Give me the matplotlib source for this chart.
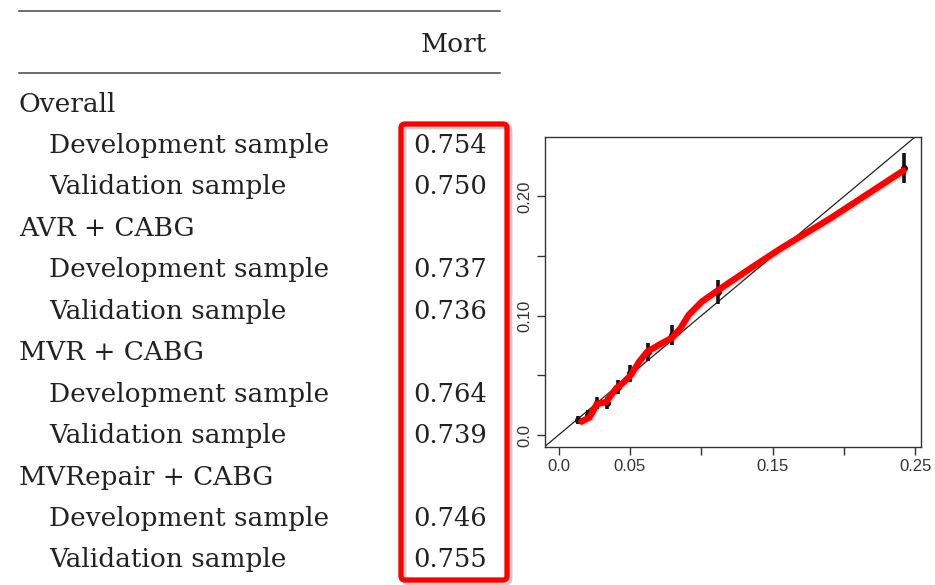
import numpy as np
import matplotlib
matplotlib.use('Agg')
import matplotlib.pyplot as plt
import matplotlib.patches as mpatches
import matplotlib.transforms as mtransforms
import matplotlib.patheffects as pe

# table contents
row_labels = ['Overall', 'Development sample', 'Validation sample',
              'AVR + CABG', 'Development sample', 'Validation sample',
              'MVR + CABG', 'Development sample', 'Validation sample',
              'MVRepair + CABG', 'Development sample', 'Validation sample']
row_indent = [0, 1, 1, 0, 1, 1, 0, 1, 1, 0, 1, 1]
row_values = ['', '0.754', '0.750', '', '0.737', '0.736',
              '', '0.764', '0.739', '', '0.746', '0.755']
col_header = 'Mort'

# calibration: grouped observed vs predicted with error bars
pred = [0.0136, 0.0206, 0.0268, 0.0338, 0.0414, 0.0502, 0.0627, 0.0796, 0.1120, 0.2417]
obs = [0.0126, 0.0168, 0.0266, 0.0266, 0.0405, 0.0517, 0.0699, 0.0839, 0.1200, 0.2237]
obs_err = [0.003, 0.004, 0.005, 0.005, 0.006, 0.007, 0.0075, 0.0084, 0.0100, 0.0126]

# smoothed calibration curve
smooth_x = [0.0160, 0.0217, 0.0268, 0.0333, 0.0403, 0.0453, 0.0507, 0.0565, 0.0622,
            0.0703, 0.0796, 0.0854, 0.0912, 0.1004, 0.1120, 0.1328, 0.1560, 0.1907, 0.2417]
smooth_y = [0.0112, 0.0148, 0.0260, 0.0277, 0.0391, 0.0439, 0.0503, 0.0615, 0.0699,
            0.0755, 0.0816, 0.0895, 0.1007, 0.1118, 0.1216, 0.1384, 0.1566, 0.1818, 0.2217]

W, H = 935, 585
fig = plt.figure(figsize=(W / 100, H / 100), dpi=100)
fig.patch.set_facecolor('white')

# pixel coordinates measured from the top-left corner
px = mtransforms.Affine2D().scale(1, -1).translate(0, H).scale(1 / W, 1 / H) + fig.transFigure

serif = ['DejaVu Serif']
fs_lab = 19
fs_num = 18.5
tcol = '#222222'

fig.add_artist(plt.Line2D([19, 500], [11, 11], transform=px, color='#444444', lw=1.1))
fig.add_artist(plt.Line2D([19, 500], [73, 73], transform=px, color='#444444', lw=1.1))
fig.text(487, 45, col_header, transform=px, ha='right', va='center',
         family=serif, fontsize=fs_lab, color=tcol)

y0, dy = 104, 41.45
for i, (lab, ind, val) in enumerate(zip(row_labels, row_indent, row_values)):
    y = y0 + i * dy
    fig.text(19 + 30 * ind, y, lab, transform=px, ha='left', va='center',
             family=serif, fontsize=fs_lab, color=tcol)
    if val:
        fig.text(487, y, val, transform=px, ha='right', va='center',
                 family=serif, fontsize=fs_num, color=tcol)

# red highlight around the value column
box = mpatches.FancyBboxPatch((401, 124), 106, 456, transform=px,
                              boxstyle='round,pad=0,rounding_size=4',
                              fill=False, edgecolor='#ff0000', lw=3.8,
                              path_effects=[pe.SimpleLineShadow(offset=(2, -2), alpha=0.2),
                                            pe.Normal()])
fig.add_artist(box)

# calibration plot
left, right, top, bottom = 545, 920.7, 136.7, 446.7
ax = fig.add_axes([left / W, 1 - bottom / H, (right - left) / W, (bottom - top) / H])
ax.set_xlim(-0.0095, 0.2537)
ax.set_ylim(-0.0098, 0.250)

ax.axline((0, 0), (1, 1), color='#222222', lw=0.9, zorder=1)
ax.errorbar(pred, obs, yerr=obs_err, fmt='o', ms=4, color='#111111',
            ecolor='#111111', elinewidth=2.6, capsize=0, zorder=2)
ax.plot(smooth_x, smooth_y, color='#ff0000', lw=4.6, solid_capstyle='round',
        solid_joinstyle='round', zorder=3,
        path_effects=[pe.SimpleLineShadow(offset=(1, -1), alpha=0.12), pe.Normal()])

ax.set_xticks([0.0, 0.05, 0.10, 0.15, 0.20, 0.25])
ax.set_xticklabels(['0.0', '0.05', '', '0.15', '', '0.25'])
ax.set_yticks([0.0, 0.05, 0.10, 0.15, 0.20])
ax.set_yticklabels(['0.0', '', '0.10', '', '0.20'], rotation=90, va='center')
for s in ax.spines.values():
    s.set_color('#333333')
    s.set_linewidth(1.0)
ax.tick_params(direction='out', length=6, width=1.0, color='#333333',
               labelcolor='#333333', labelsize=12, pad=3)
for lab in ax.get_xticklabels() + ax.get_yticklabels():
    lab.set_family(['Liberation Sans', 'DejaVu Sans'])

fig.savefig('out.png', dpi=100, facecolor='white')
